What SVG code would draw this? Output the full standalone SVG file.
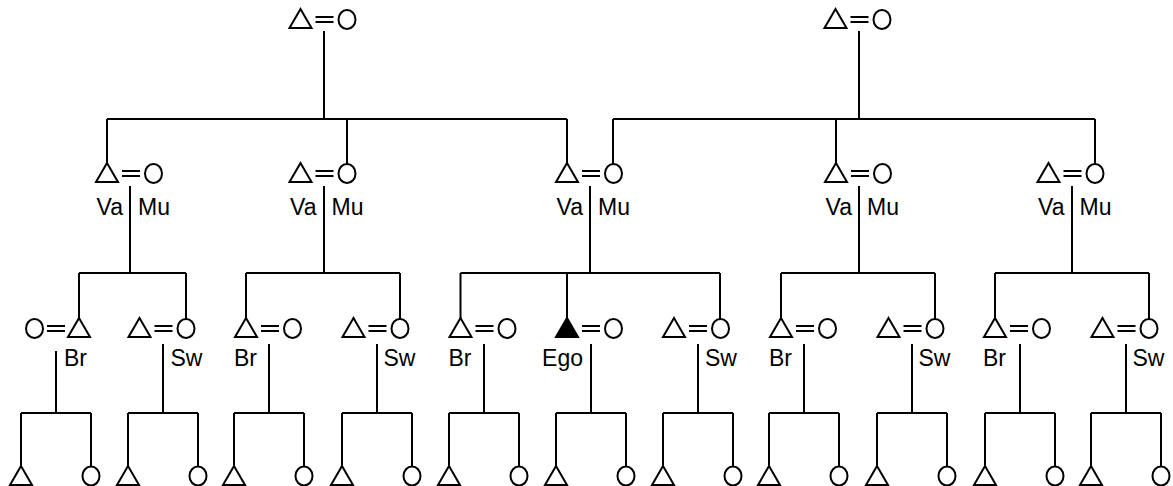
<svg xmlns="http://www.w3.org/2000/svg" xmlns:xlink="http://www.w3.org/1999/xlink" width="1173" height="486" viewBox="0 0 1173 486">
  <style>
    .ln { stroke: #000; stroke-width: 2; fill: none; }
    .m { fill: #fff; stroke: #000; stroke-width: 2; }
    .ego { fill: #000; stroke: #000; stroke-width: 2; }
    .f { fill: #fff; stroke: #000; stroke-width: 2; }
    .eq { stroke: #000; stroke-width: 2; }
    text { font-family: "Liberation Sans", Arial, sans-serif; font-size: 23px; fill: #000; }
  </style>
  <defs>
    <!-- male: apex at origin -->
    <polygon id="male" points="0,0 11,19 -11,19"/>
    <!-- female: centred at origin -->
    <ellipse id="female" cx="0" cy="0" rx="8.5" ry="9.5"/>
    <!-- marriage sign, relative to the husband's apex -->
    <g id="eqR"><line x1="15" y1="8" x2="33" y2="8"/><line x1="15" y1="13" x2="33" y2="13"/></g>
  </defs>

  <rect width="1173" height="486" fill="#fff"/>

  <!-- connectors: descent lines and sibling bars -->
  <g id="connectors" class="ln">
    <!-- grandparents to parents' generation -->
    <path d="M324,31 V119 M107,119 H567 M107,119 V163 M347,119 V164 M567,119 V163"/>
    <path d="M859,31 V119 M613,119 H1095 M613,119 V164 M836,119 V163 M1095,119 V164"/>
    <!-- parents' generation to siblings/cousins -->
    <path d="M130,186 V273 M79,273 H186 M79,273 V318 M186,273 V319"/>
    <path d="M324,186 V273 M246,273 H400 M246,273 V318 M400,273 V319"/>
    <path d="M590,186 V273 M460.5,273 H720 M460.5,273 V318 M567,273 V318 M720,273 V319"/>
    <path d="M859,186 V273 M781,273 H935 M781,273 V318 M935,273 V319"/>
    <path d="M1072,186 V273 M995,273 H1149 M995,273 V318 M1149,273 V319"/>
    <!-- to the children -->
    <path d="M56,351 V413 M21,413 H91 M21,413 V466 M91,413 V467"/>
    <path d="M163,344 V413 M128,413 H198 M128,413 V466 M198,413 V467"/>
    <path d="M269,344 V413 M234,413 H304 M234,413 V466 M304,413 V467"/>
    <path d="M377,344 V413 M342,413 H412 M342,413 V466 M412,413 V467"/>
    <path d="M484,344 V413 M449,413 H519 M449,413 V466 M519,413 V467"/>
    <path d="M591,344 V413 M556,413 H626 M556,413 V466 M626,413 V467"/>
    <path d="M698,344 V413 M663,413 H733 M663,413 V466 M733,413 V467"/>
    <path d="M804,344 V413 M769,413 H839 M769,413 V466 M839,413 V467"/>
    <path d="M912,344 V413 M877,413 H947 M877,413 V466 M947,413 V467"/>
    <path d="M1020,344 V413 M985,413 H1055 M985,413 V466 M1055,413 V467"/>
    <path d="M1126,344 V413 M1091,413 H1161 M1091,413 V466 M1161,413 V467"/>
  </g>

  <!-- grandparents -->
  <g id="gp-left" transform="translate(300.5,9)">
    <use href="#male" class="m"/><use href="#eqR" class="eq"/><use href="#female" class="f" x="46.5" y="10.5"/>
  </g>
  <g id="gp-right" transform="translate(835.5,9)">
    <use href="#male" class="m"/><use href="#eqR" class="eq"/><use href="#female" class="f" x="46.5" y="10.5"/>
  </g>

  <!-- parents' generation -->
  <g id="p1" transform="translate(107,163)">
    <use href="#male" class="m"/><use href="#eqR" class="eq"/><use href="#female" class="f" x="46.5" y="10.5"/>
    <text x="16" y="52" text-anchor="end">Va</text><text x="31" y="52">Mu</text>
  </g>
  <g id="p2" transform="translate(300.5,163)">
    <use href="#male" class="m"/><use href="#eqR" class="eq"/><use href="#female" class="f" x="46.5" y="10.5"/>
    <text x="16" y="52" text-anchor="end">Va</text><text x="31" y="52">Mu</text>
  </g>
  <g id="p3" transform="translate(567,163)">
    <use href="#male" class="m"/><use href="#eqR" class="eq"/><use href="#female" class="f" x="46.5" y="10.5"/>
    <text x="16" y="52" text-anchor="end">Va</text><text x="31" y="52">Mu</text>
  </g>
  <g id="p4" transform="translate(836,163)">
    <use href="#male" class="m"/><use href="#eqR" class="eq"/><use href="#female" class="f" x="46.5" y="10.5"/>
    <text x="16" y="52" text-anchor="end">Va</text><text x="31" y="52">Mu</text>
  </g>
  <g id="p5" transform="translate(1048.5,163)">
    <use href="#male" class="m"/><use href="#eqR" class="eq"/><use href="#female" class="f" x="46.5" y="10.5"/>
    <text x="16" y="52" text-anchor="end">Va</text><text x="31" y="52">Mu</text>
  </g>

  <!-- Ego's generation -->
  <g id="s1-br">
    <ellipse cx="34.5" cy="328.5" rx="8.5" ry="9.5" class="f"/>
    <line x1="47" y1="326" x2="65" y2="326" class="eq"/><line x1="47" y1="331" x2="65" y2="331" class="eq"/>
    <use href="#male" class="m" x="79" y="318"/>
    <text x="64" y="366">Br</text>
  </g>
  <g id="s1-sw" transform="translate(139.5,318)">
    <use href="#male" class="m"/><use href="#eqR" class="eq"/><use href="#female" class="f" x="46.5" y="10.5"/>
    <text x="31" y="48">Sw</text>
  </g>
  <g id="s2-br" transform="translate(246,318)">
    <use href="#male" class="m"/><use href="#eqR" class="eq"/><use href="#female" class="f" x="46.5" y="10.5"/>
    <text x="-12" y="48">Br</text>
  </g>
  <g id="s2-sw" transform="translate(353.5,318)">
    <use href="#male" class="m"/><use href="#eqR" class="eq"/><use href="#female" class="f" x="46.5" y="10.5"/>
    <text x="30" y="48">Sw</text>
  </g>
  <g id="s3-br" transform="translate(460.5,318)">
    <use href="#male" class="m"/><use href="#eqR" class="eq"/><use href="#female" class="f" x="46.5" y="10.5"/>
    <text x="-12" y="48">Br</text>
  </g>
  <g id="ego" transform="translate(567,318)">
    <use href="#male" class="ego"/><use href="#eqR" class="eq"/><use href="#female" class="f" x="46.5" y="10.5"/>
    <text x="16" y="48" text-anchor="end">Ego</text>
  </g>
  <g id="s3-sw" transform="translate(674,318)">
    <use href="#male" class="m"/><use href="#eqR" class="eq"/><use href="#female" class="f" x="46.5" y="10.5"/>
    <text x="31" y="48">Sw</text>
  </g>
  <g id="s4-br" transform="translate(781,318)">
    <use href="#male" class="m"/><use href="#eqR" class="eq"/><use href="#female" class="f" x="46.5" y="10.5"/>
    <text x="-12" y="48">Br</text>
  </g>
  <g id="s4-sw" transform="translate(888.5,318)">
    <use href="#male" class="m"/><use href="#eqR" class="eq"/><use href="#female" class="f" x="46.5" y="10.5"/>
    <text x="30" y="48">Sw</text>
  </g>
  <g id="s5-br" transform="translate(995,318)">
    <use href="#male" class="m"/><use href="#eqR" class="eq"/><use href="#female" class="f" x="46.5" y="10.5"/>
    <text x="-12" y="48">Br</text>
  </g>
  <g id="s5-sw" transform="translate(1102.5,318)">
    <use href="#male" class="m"/><use href="#eqR" class="eq"/><use href="#female" class="f" x="46.5" y="10.5"/>
    <text x="30" y="48">Sw</text>
  </g>

  <!-- children's generation -->
  <g id="c1"><use href="#male" class="m" x="21" y="466"/><use href="#female" class="f" x="91" y="476"/></g>
  <g id="c2"><use href="#male" class="m" x="128" y="466"/><use href="#female" class="f" x="198" y="476"/></g>
  <g id="c3"><use href="#male" class="m" x="234" y="466"/><use href="#female" class="f" x="304" y="476"/></g>
  <g id="c4"><use href="#male" class="m" x="342" y="466"/><use href="#female" class="f" x="412" y="476"/></g>
  <g id="c5"><use href="#male" class="m" x="449" y="466"/><use href="#female" class="f" x="519" y="476"/></g>
  <g id="c6"><use href="#male" class="m" x="556" y="466"/><use href="#female" class="f" x="626" y="476"/></g>
  <g id="c7"><use href="#male" class="m" x="663" y="466"/><use href="#female" class="f" x="733" y="476"/></g>
  <g id="c8"><use href="#male" class="m" x="769" y="466"/><use href="#female" class="f" x="839" y="476"/></g>
  <g id="c9"><use href="#male" class="m" x="877" y="466"/><use href="#female" class="f" x="947" y="476"/></g>
  <g id="c10"><use href="#male" class="m" x="985" y="466"/><use href="#female" class="f" x="1055" y="476"/></g>
  <g id="c11"><use href="#male" class="m" x="1091" y="466"/><use href="#female" class="f" x="1161" y="476"/></g>
</svg>
